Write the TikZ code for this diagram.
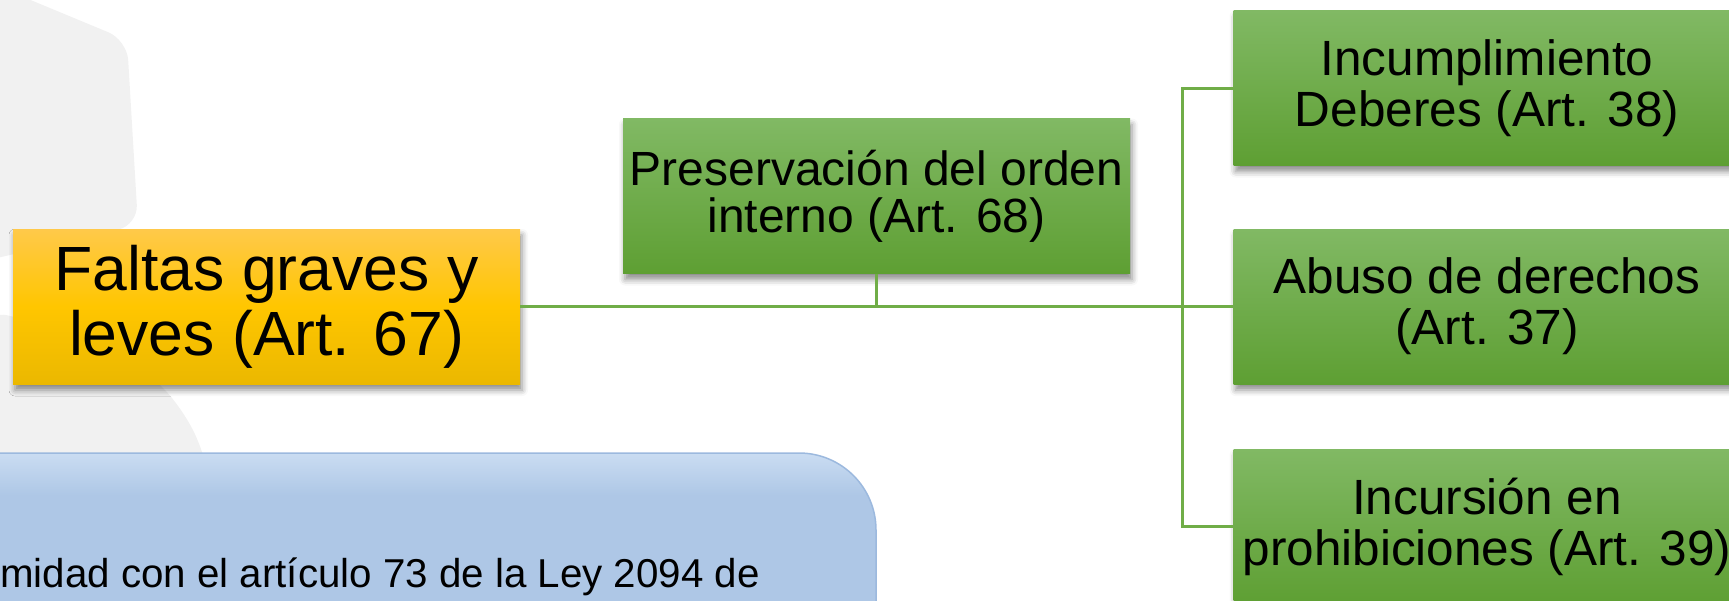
\documentclass[tikz,border=0pt]{standalone}
\usepackage{fontspec}
\setmainfont{Liberation Sans}
\usetikzlibrary{shadows.blur}

\definecolor{yelTop}{HTML}{FFC94A}
\definecolor{yelMid}{HTML}{FFC600}
\definecolor{yelBot}{HTML}{EBB800}
\definecolor{grnTop}{HTML}{81B964}
\definecolor{grnBot}{HTML}{5E9F33}
\definecolor{grnLine}{HTML}{70AD47}
\definecolor{bluBody}{HTML}{AEC7E6}
\definecolor{bluTop}{HTML}{CADCF2}
\definecolor{bluEdge}{HTML}{9CB9DE}
\definecolor{ghost}{HTML}{F1F1F1}

\tikzset{
  box/.style={rectangle, minimum width=507pt, minimum height=155pt, inner sep=0pt, align=center,
    blur shadow={shadow xshift=2pt, shadow yshift=-6pt, shadow blur radius=6pt, shadow opacity=45}},
  rootbox/.style={box, top color=yelTop, bottom color=yelBot, middle color=yelMid,
    font=\fontsize{62.5}{65}\selectfont},
  midbox/.style={box, top color=grnTop, bottom color=grnBot, font=\fontsize{48}{47}\selectfont},
  leafbox/.style={box, top color=grnTop, bottom color=grnBot, font=\fontsize{49.5}{51}\selectfont},
  note/.style={inner sep=0pt, font=\fontsize{40.3}{48}\selectfont},
  link/.style={draw=grnLine, line width=3pt},
}

\begin{document}
\begin{tikzpicture}[x=1pt,y=-1pt]
    \useasboundingbox (0,0) rectangle (1729,600);
    \clip (0,0) rectangle (1729,600);
    %
    \fill[ghost, rounded corners=20pt] (-20,-21) -- (127,40) -- (138,225) -- (-20,262) -- cycle;
    \fill[ghost, rounded corners=30pt] (-20,308) -- (120,345) -- (185,410) -- (210,470) -- (215,620) -- (-20,620) -- cycle;
    %
    \fill[bluBody, rounded corners=77pt] (-200,453) -- (876,453) -- (876,800) -- (-200,800) -- cycle;
    \begin{scope}
      \clip[rounded corners=77pt] (-200,453) -- (876,453) -- (876,800) -- (-200,800) -- cycle;
      \shade[top color=bluTop, bottom color=bluBody] (-200,453) rectangle (880,495);
    \end{scope}
    \draw[bluEdge, line width=1.5pt, rounded corners=77pt] (-200,453) -- (876,453) -- (876,800) -- (-200,800) -- cycle;
    \node[note, anchor=base west] (ley) at (0,587) {midad con el artículo 73 de la Ley 2094 de};
    %
    \node[rootbox] (falta) at (266.5,306.5) {Faltas graves y\\leves (Art. 67)};
    \node[midbox] (preserv) at (876.5,196) {Preservación del orden\\interno (Art. 68)};
    \node[leafbox] (deberes) at (1487,88) {Incumplimiento\\Deberes (Art. 38)};
    \node[leafbox] (abuso) at (1487,306.5) {Abuso de derechos\\(Art. 37)};
    \node[leafbox] (incursion) at (1487,526.5) {Incursión en\\prohibiciones (Art. 39)};
    %
    \coordinate (bus) at (1182,306.5);
    \draw[link] (falta.east) -- (abuso.west);
    \draw[link] (preserv.south) -- (preserv.south |- falta.east);
    \draw[link] (deberes.west) -| (bus) |- (incursion.west);
\end{tikzpicture}
\end{document}
